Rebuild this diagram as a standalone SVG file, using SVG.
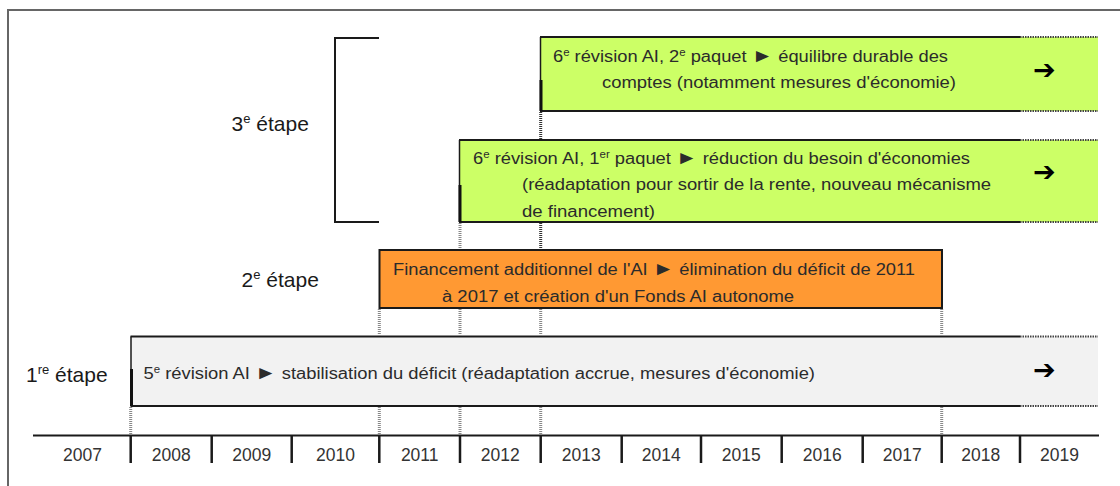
<svg xmlns="http://www.w3.org/2000/svg" width="1120" height="486" viewBox="0 0 1120 486">
<style>
  .frame { stroke: #666; stroke-width: 2; fill: none; }
  .edge { stroke: #1a1a1a; stroke-width: 2; fill: none; }
  .edgeL { stroke: #1a1a1a; stroke-width: 1.5; fill: none; }
  .edgeT { stroke: #111; stroke-width: 3; fill: none; }
  .ext { stroke: #444; stroke-width: 2; stroke-dasharray: 1.5 1; fill: none; }
  .conn { stroke: #888; stroke-width: 3; stroke-dasharray: 1 1; fill: none; }
  .connD { stroke: #333; stroke-width: 3; stroke-dasharray: 1 1; fill: none; }
  .green { fill: #ccff66; }
  .orange { fill: #ff9933; }
  .grey { fill: #f2f2f2; }
  .txt { font-family: "Liberation Sans", Arial, sans-serif; font-size: 16px; fill: #2b2b2b; }
  .lbl { font-family: "Liberation Sans", Arial, sans-serif; font-size: 21px; fill: #1a1a1a; }
  .yr { font-family: "Liberation Sans", Arial, sans-serif; font-size: 17.5px; fill: #333; text-anchor: middle; }
  .arr { font-family: "DejaVu Sans", sans-serif; font-size: 27px; font-weight: bold; fill: #000; }
  .sup { font-size: 10px; }
  .supL { font-size: 13px; }
  .tri { font-size: 19px; }
</style>

<!-- frame -->
<path class="frame" d="M8 486 V10 H1120"/>

<!-- stage labels -->
<g id="label-etape3">
  <text class="lbl" x="231.5" y="131">3<tspan class="supL" dy="-8">e</tspan><tspan dy="8"> étape</tspan></text>
  <path class="edge" d="M379 38 H335 V222 H379"/>
</g>
<g id="label-etape2">
  <text class="lbl" x="241.5" y="287">2<tspan class="supL" dy="-8">e</tspan><tspan dy="8"> étape</tspan></text>
</g>
<g id="label-etape1">
  <text class="lbl" x="26" y="381.5">1<tspan class="supL" dy="-8">re</tspan><tspan dy="8"> étape</tspan></text>
</g>

<!-- node: 6e révision AI, 2e paquet -->
<g id="node-6e-revision-2e-paquet">
  <rect class="green" x="540.5" y="37" width="557.5" height="74"/>
  <path class="edge" d="M540 37 H1020 M540 111 H1020"/>
  <path class="ext" d="M1020 37 H1098 M1020 111 H1098"/>
  <path class="edgeL" d="M540.5 37 V111"/>
  <path class="edgeT" d="M541 80 V111"/>
  <text class="txt" x="553" y="62" textLength="395" lengthAdjust="spacingAndGlyphs">6<tspan class="sup" dy="-6">e</tspan><tspan dy="6"> révision AI, 2</tspan><tspan class="sup" dy="-6">e</tspan><tspan dy="6"> paquet </tspan><tspan class="tri">►</tspan> équilibre durable des</text>
  <text class="txt" x="602" y="88" textLength="354" lengthAdjust="spacingAndGlyphs">comptes (notamment mesures d'économie)</text>
  <text class="arr" x="1033" y="79">➔</text>
</g>

<!-- node: 6e révision AI, 1er paquet -->
<g id="node-6e-revision-1er-paquet">
  <rect class="green" x="459.5" y="140" width="638.5" height="82"/>
  <path class="edge" d="M459 140 H1020 M459 222 H1020"/>
  <path class="ext" d="M1020 140 H1098 M1020 222 H1098"/>
  <path class="edgeL" d="M459.5 140 V222"/>
  <path class="edgeT" d="M460 185 V222"/>
  <text class="txt" x="473" y="163.5" textLength="497" lengthAdjust="spacingAndGlyphs">6<tspan class="sup" dy="-6">e</tspan><tspan dy="6"> révision AI, 1</tspan><tspan class="sup" dy="-6">er</tspan><tspan dy="6"> paquet </tspan><tspan class="tri">►</tspan> réduction du besoin d'économies</text>
  <text class="txt" x="522" y="190" textLength="469" lengthAdjust="spacingAndGlyphs">(réadaptation pour sortir de la rente, nouveau mécanisme</text>
  <text class="txt" x="522" y="216.5" textLength="133" lengthAdjust="spacingAndGlyphs">de financement)</text>
  <text class="arr" x="1033" y="181">➔</text>
</g>

<!-- node: Financement additionnel -->
<g id="node-financement-additionnel">
  <rect class="orange" x="379.5" y="250" width="562.5" height="58"/>
  <rect x="379.5" y="250" width="562.5" height="58" fill="none" stroke="#1a1a1a" stroke-width="2"/>
  <text class="txt" x="393" y="275" textLength="522" lengthAdjust="spacingAndGlyphs">Financement additionnel de l'AI <tspan class="tri">►</tspan> élimination du déficit de 2011</text>
  <text class="txt" x="442" y="301.5" textLength="352" lengthAdjust="spacingAndGlyphs">à 2017 et création d'un Fonds AI autonome</text>
</g>

<!-- node: 5e révision AI -->
<g id="node-5e-revision">
  <rect class="grey" x="131" y="336.5" width="967" height="69.5"/>
  <path class="edge" d="M130.5 336.5 H1020 M130.5 406 H1020"/>
  <path class="ext" d="M1020 336.5 H1098 M1020 406 H1098"/>
  <path class="edgeL" d="M131 336.5 V406"/>
  <path class="edgeT" d="M131.5 369 V406"/>
  <text class="txt" x="143.5" y="379" textLength="671.5" lengthAdjust="spacingAndGlyphs">5<tspan class="sup" dy="-6">e</tspan><tspan dy="6"> révision AI </tspan><tspan class="tri">►</tspan> stabilisation du déficit (réadaptation accrue, mesures d'économie)</text>
  <text class="arr" x="1033" y="379">➔</text>
</g>

<!-- connectors -->
<g id="connectors">
  <path class="connD" d="M540.7 112 V139"/>
  <path class="conn" d="M460 223 V249"/>
  <path class="connD" d="M540.7 223 V249"/>
  <path class="conn" d="M379.3 309 V336 M460 309 V336 M540.7 309 V336 M941.7 309 V336"/>
  <path class="conn" d="M130.7 407 V434 M379.3 407 V434 M460 407 V434 M540.7 407 V434 M941.7 407 V434"/>
</g>

<!-- timeline axis -->
<g id="timeline">
  <path class="edge" d="M33 435.5 H1099"/>
  <path stroke="#1a1a1a" stroke-width="2.5" fill="none" d="M130.7 435 V463 M211.7 435 V463 M291.7 435 V463 M379.3 435 V463 M460 435 V463 M540.7 435 V463 M621.7 435 V463 M701 435 V463 M781.7 435 V463 M862.7 435 V463 M941.7 435 V463 M1020 435 V463"/>
  <text class="yr" x="82.5" y="460.5">2007</text>
  <text class="yr" x="171.2" y="460.5">2008</text>
  <text class="yr" x="251.7" y="460.5">2009</text>
  <text class="yr" x="335.5" y="460.5">2010</text>
  <text class="yr" x="419.7" y="460.5">2011</text>
  <text class="yr" x="500.3" y="460.5">2012</text>
  <text class="yr" x="581.2" y="460.5">2013</text>
  <text class="yr" x="661.3" y="460.5">2014</text>
  <text class="yr" x="741.3" y="460.5">2015</text>
  <text class="yr" x="822.2" y="460.5">2016</text>
  <text class="yr" x="902.2" y="460.5">2017</text>
  <text class="yr" x="980.8" y="460.5">2018</text>
  <text class="yr" x="1059.5" y="460.5">2019</text>
</g>
</svg>
